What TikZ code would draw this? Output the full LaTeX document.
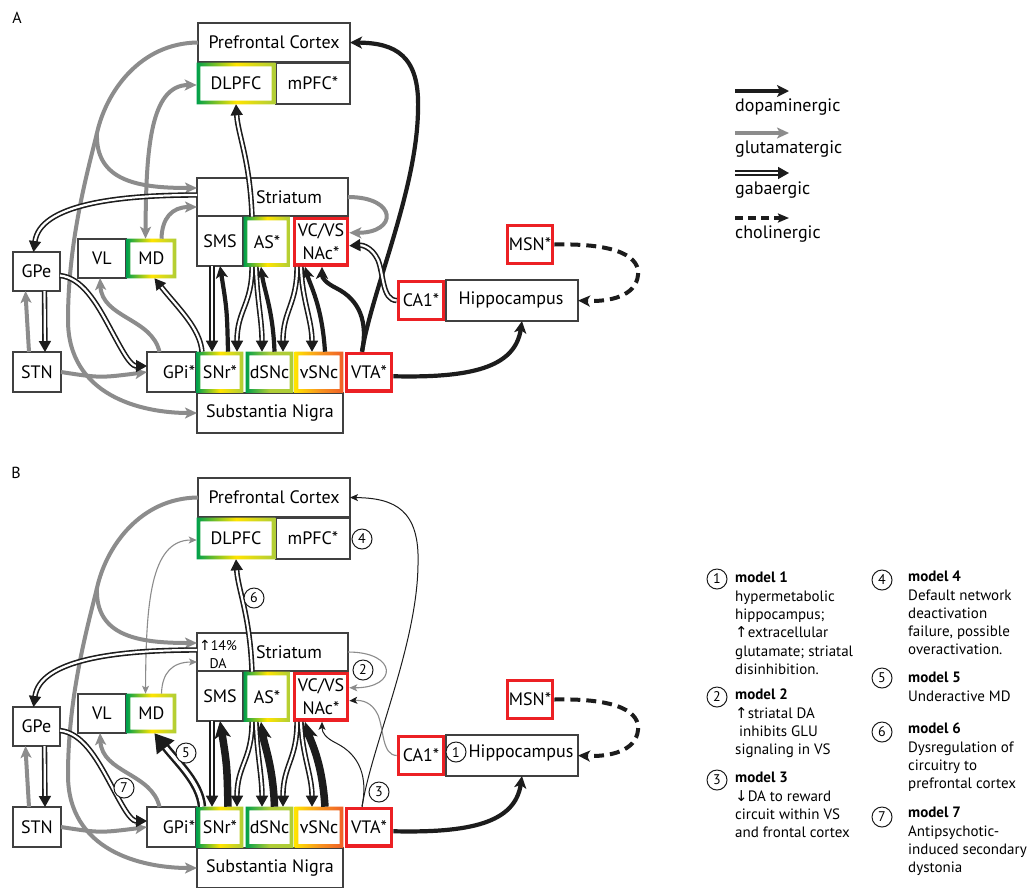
\documentclass[tikz,border=0pt]{standalone}
\usepackage{fontspec}
\setmainfont{PT Sans}
\newfontfamily\symf{DejaVu Sans}
\usetikzlibrary{arrows.meta,calc}
\definecolor{gluc}{RGB}{140,140,140}
\definecolor{dac}{RGB}{28,28,28}
\definecolor{bxc}{RGB}{64,64,64}
\definecolor{grn}{RGB}{0,160,75}
\definecolor{yel}{RGB}{255,228,0}
\definecolor{ygr}{RGB}{175,205,55}
\definecolor{org}{RGB}{248,150,30}
\definecolor{rorg}{RGB}{240,95,40}
\definecolor{redb}{RGB}{236,32,36}

\tikzset{
 x=1pt,y=-1pt,
 box/.style={draw=bxc,line width=1.4pt,fill=white,inner sep=0pt,outer sep=0pt,font=\fontsize{18}{23}\selectfont,align=center},
 lbl/.style={inner sep=0pt,font=\fontsize{18}{23}\selectfont},
 glu/.style={draw=gluc,line width=4pt,-{Stealth[length=12pt,width=11pt,inset=3pt]}},
 gluthin/.style={draw=gluc,line width=1.1pt,-{Stealth[length=8pt,width=7pt,inset=2pt]}},
 da/.style={draw=dac,line width=4.2pt,-{Stealth[length=12pt,width=12pt,inset=3pt]}},
 dathick/.style={draw=dac,line width=7.5pt,-{Stealth[length=17pt,width=16pt,inset=4pt]}},
 dathin/.style={draw=dac,line width=1pt,-{Stealth[length=8pt,width=7pt,inset=2pt]}},
 gaba/.style={draw=dac,line width=1.6pt,double=white,double distance=2.2pt,-{Triangle[length=11pt,width=12pt]}},
 gabathick/.style={draw=dac,line width=2.5pt,double=white,double distance=3.5pt,-{Triangle[length=18pt,width=22pt]}},
 chol/.style={draw=dac,line width=4pt,dash pattern=on 10pt off 6pt,-{Stealth[length=12pt,width=11pt,inset=3pt]}},
 num/.style={circle,draw=dac,line width=1pt,fill=white,inner sep=0pt,minimum size=20pt,font=\fontsize{14}{14}\selectfont},
 mtxt/.style={anchor=north west,inner sep=0pt,align=left,font=\fontsize{15}{18.3}\selectfont},
 legt/.style={anchor=base west,inner sep=0pt,font=\fontsize{18}{20}\selectfont},
}

\newcommand{\mybox}[7][]{\node[box,#1,minimum width={(#5-#3)*1pt},minimum height={(#6-#4)*1pt}] (#2) at ({(#3+#5)/2},{(#4+#6)/2}) {#7};}
\newcommand{\gradframe}[4]{\shade[left color=#2,right color=#4,middle color=#3,even odd rule] ($(#1.south west)+(-1.8,1.8)$) rectangle ($(#1.north east)+(1.8,-1.8)$) ($(#1.south west)+(1.8,-1.8)$) rectangle ($(#1.north east)+(-1.8,1.8)$);}

\newcommand{\panelboxes}[1]{%
\mybox{#1pfc}{198}{23}{350}{62}{Prefrontal Cortex}
\mybox[draw=none]{#1dlpfc}{198.5}{64.5}{273.5}{102.5}{DLPFC}
\mybox{#1mpfc}{276}{63}{350}{104}{mPFC*}
\mybox{#1str}{197}{178}{348}{216}{}
\node[lbl] (#1strl) at (289,197) {Striatum};
\mybox{#1sms}{197}{216}{243}{266}{SMS}
\mybox[draw=none]{#1as}{245.5}{218.5}{288.5}{265}{AS*}
\mybox[draw=redb,line width=3.5pt]{#1vcvs}{294.5}{218.5}{347.5}{265}{VC/VS\\NAc*}
\mybox{#1gpe}{13}{252}{60}{291}{GPe}
\mybox{#1vl}{78}{239}{126}{278}{VL}
\mybox[draw=none]{#1md}{128.5}{240.5}{174.5}{276.5}{MD}
\mybox{#1stn}{13}{352}{61}{392}{STN}
\mybox{#1gpi}{147}{352}{196}{392}{}
\node[lbl] (#1gpil) at (179,372) {GPi*};
\mybox{#1sn}{197}{393}{343}{433}{Substantia Nigra}
\mybox[draw=none]{#1snr}{198.5}{353.5}{241.5}{391}{SNr*}
\mybox[draw=none]{#1dsnc}{247.5}{353.5}{291.5}{391}{dSNc}
\mybox[draw=none]{#1vsnc}{296.5}{353.5}{341.5}{391}{vSNc}
\mybox[draw=redb,line width=3.5pt]{#1vta}{346.5}{353.5}{391.5}{391}{VTA*}
\mybox[draw=redb,line width=3.5pt]{#1ca1}{398.5}{281.5}{443.5}{319.5}{CA1*}
\mybox{#1hip}{446}{280}{578}{321}{}
\mybox[draw=redb,line width=3.5pt]{#1msn}{507.5}{225.5}{552.5}{263.5}{MSN*}
\gradframe{#1dlpfc}{grn}{yel}{ygr}
\gradframe{#1md}{grn}{yel}{ygr}
\gradframe{#1as}{grn}{yel}{ygr}
\gradframe{#1snr}{grn}{yel}{ygr}
\gradframe{#1dsnc}{grn}{ygr}{ygr}
\gradframe{#1vsnc}{yel}{org}{rorg}
\coordinate (#1br) at (97,133);
}

\newcommand{\panelarrows}[1]{%
% glutamatergic
\draw[glu] (#1pfc.west) .. controls (140,43) and (106,92) .. (#1br) .. controls (88,170) and (68,240) .. (68,320) .. controls (68,395) and (140,413) .. (#1sn.west);
\draw[glu] (#1br) .. controls (95,182) and (140,188) .. ($(#1str.west)+(0,-9)$);
\draw[mddl] ($(#1md.north)+(-6,-1.8)$) .. controls (146,150) and (150,85) .. ($(#1dlpfc.west)+(-1.8,1.5)$);
\draw[mdstr] ($(#1md.north)+(10,-1.8)$) .. controls (162,218) and (172,207) .. ($(#1str.west)+(0,10)$);
\draw[glu] ($(#1stn.north)+(-8,0)$) .. controls (27,325) .. ($(#1gpe.south)+(-11,0)$);
\draw[glu] (#1stn.east) .. controls (100,378) .. (#1gpi.west);
\draw[glu] ($(#1gpi.north)+(-12,0)$) .. controls (152,318) and (102,318) .. ($(#1vl.south)+(-2,0)$);
\draw[loopst] (#1str.east) .. controls (398,197) and (398,233) .. ($(#1vcvs.east)+(1.8,-9)$);
% dopaminergic
\draw[vtapf] ($(#1vta.north)+(-7,-1.8)$) .. controls (372,290) and (417,190) .. (418,110) .. controls (420,55) and (395,43) .. (#1pfc.east);
\draw[vtana] ($(#1vta.north)+(-7,-1.8)$) .. controls (368,322) and (360,300) .. (336,288) .. controls (326,283) and (322,278) .. ($(#1vcvs.south)+(1,1.8)$);
\draw[da] ($(#1vta.east)+(1.8,4)$) .. controls (470,378) and (515,368) .. ($(#1hip.south)+(10,0)$);
\draw[snst] ($(#1snr.north)+(8,-1.8)$) .. controls (227,310) .. (#1sms.south);
\draw[snst] ($(#1dsnc.north)+(5,-1.8)$) .. controls (273,310) and (264,290) .. ($(#1as.south)+(-6,1.8)$);
\draw[snst] ($(#1vsnc.north)+(6,-1.8)$) .. controls (322,305) and (310,285) .. ($(#1vcvs.south)+(-16,1.8)$);
% gabaergic
\draw[gaba] ($(#1sms.south)+(-8,0)$) -- ($(#1snr.north)+(-8,-1.8)$);
\draw[gaba] ($(#1as.south)+(-15,1.8)$) .. controls (252,305) and (237,310) .. ($(#1snr.north)+(17,-1.8)$);
\draw[gaba] ($(#1as.south)+(-11,1.8)$) .. controls (257,300) and (262,320) .. ($(#1dsnc.north)+(-7.5,-1.8)$);
\draw[gaba] ($(#1vcvs.south)+(-24,1.8)$) .. controls (297,305) and (283,310) .. ($(#1dsnc.north)+(13.5,-1.8)$);
\draw[gaba] ($(#1vcvs.south)+(-20,1.8)$) .. controls (302,300) and (312,320) .. ($(#1vsnc.north)+(-7,-1.8)$);
\draw[gaba] ($(#1str.west)+(0,-2)$) .. controls (115,195) and (40,205) .. ($(#1gpe.north)+(-3,0)$);
\draw[gaba] ($(#1gpe.east)+(0,4)$) .. controls (82,278) and (96,302) .. (110,328) .. controls (122,350) and (130,366) .. ($(#1gpi.west)+(0,-6)$);
\draw[gaba] ($(#1gpe.south)+(8,0)$) -- ($(#1stn.north)+(8,0)$);
\draw[gpmd] ($(#1snr.north)+(-18,-1.8)$) .. controls (200,328) and (178,308) .. ($(#1md.south)+(3,1.8)$);
\draw[gaba] ($(#1as.north)+(-15,-1.8)$) .. controls (250,160) and (238,135) .. ($(#1dlpfc.south)+(0,1.8)$);
\draw[canac] ($(#1ca1.west)+(-1.8,0)$) .. controls (382,300) and (384,275) .. (378,260) .. controls (372,247) and (362,245) .. ($(#1vcvs.east)+(1.8,4)$);
% cholinergic
\draw[chol] ($(#1msn.east)+(1.8,0)$) .. controls (620,243) and (640,258) .. (638,275) .. controls (636,296) and (610,302) .. (#1hip.east);
}

\begin{document}
\begin{tikzpicture}
\useasboundingbox (0,0) rectangle (1035,887);
\fill[white] (0,0) rectangle (1035,887);

\node[inner sep=0pt,font=\fontsize{16}{16}\selectfont] (labA) at (17,18) {A};
\node[inner sep=0pt,font=\fontsize{16}{16}\selectfont] (labB) at (16,473) {B};

% ---------- panel A ----------
\begin{scope}[
 mddl/.style={glu,{Stealth[length=12pt,width=11pt,inset=3pt]}-{Stealth[length=12pt,width=11pt,inset=3pt]}},
 mdstr/.style={glu}, loopst/.style={glu}, canac/.style={gaba},
 vtapf/.style={da}, vtana/.style={da}, snst/.style={da}, gpmd/.style={gaba}]
\panelboxes{a}
\node[lbl] (ahipl) at (511,300) {Hippocampus};
\panelarrows{a}
\end{scope}

% ---------- panel B ----------
\begin{scope}[shift={(0,455)},
 mddl/.style={gluthin,{Stealth[length=8pt,width=7pt,inset=2pt]}-{Stealth[length=8pt,width=7pt,inset=2pt]}},
 mdstr/.style={gluthin}, loopst/.style={gluthin},
 canac/.style={gluthin,-{Stealth[length=8pt,width=7pt,inset=2pt,color=dac]}},
 vtapf/.style={dathin}, vtana/.style={dathin}, snst/.style={dathick}, gpmd/.style={gabathick}]
\panelboxes{b}
\node[lbl] (bhipl) at (521,298) {Hippocampus};
\node[inner sep=0pt,align=center,font=\fontsize{14}{18}\selectfont] (bdal) at (218,199) {{\symf ↑}14\%\\DA};
\panelarrows{b}
\node[num] (bn1) at (456,297) {1};
\node[num] (bn2) at (363,215) {2};
\node[num] (bn3) at (379,337) {3};
\node[num] (bn4) at (362,84) {4};
\node[num] (bn5) at (186,298) {5};
\node[num] (bn6) at (254,143) {6};
\node[num] (bn7) at (124,333) {7};
\end{scope}

% ---------- legend: transmitters ----------
\coordinate (l1a) at (735,91); \coordinate (l1b) at (789,91);
\coordinate (l2a) at (735,133); \coordinate (l2b) at (789,133);
\coordinate (l3a) at (735,173); \coordinate (l3b) at (789,173);
\coordinate (l4a) at (735,218); \coordinate (l4b) at (789,218);
\draw[da] (l1a) -- (l1b);
\draw[glu] (l2a) -- (l2b);
\draw[gaba] (l3a) -- (l3b);
\draw[draw=dac,line width=3.5pt,dash pattern=on 8pt off 5pt,-{Stealth[length=11pt,width=9pt,inset=2pt]}] (l4a) -- (l4b);
\node[legt] (lt1) at (735,111) {dopaminergic};
\node[legt] (lt2) at (735,153) {glutamatergic};
\node[legt] (lt3) at (735,194) {gabaergic};
\node[legt] (lt4) at (735,238) {cholinergic};

% ---------- legend: models ----------
\node[num] (m1) at (717,579) {1};
\node[mtxt] (t1) at (735,572) {\textbf{model 1}\\hypermetabolic\\hippocampus;\\{\symf ↑}extracellular\\glutamate; striatal\\disinhibition.};
\node[num] (m2) at (717,697) {2};
\node[mtxt] (t2) at (735,689) {\textbf{model 2}\\{\symf ↑}striatal DA\\\hspace*{4pt}inhibits GLU\\signaling in VS};
\node[num] (m3) at (717,780) {3};
\node[mtxt] (t3) at (735,772) {\textbf{model 3}\\{\symf ↓}DA to reward\\circuit within VS\\and frontal cortex};
\node[num] (m4) at (882,580) {4};
\node[mtxt] (t4) at (908,571) {\textbf{model 4}\\Default network\\deactivation\\failure, possible\\overactivation.};
\node[num] (m5) at (882,678) {5};
\node[mtxt] (t5) at (908,672) {\textbf{model 5}\\Underactive MD};
\node[num] (m6) at (882,732) {6};
\node[mtxt] (t6) at (908,723) {\textbf{model 6}\\Dysregulation of\\circuitry to\\prefrontal cortex};
\node[num] (m7) at (882,817) {7};
\node[mtxt] (t7) at (908,807) {\textbf{model 7}\\Antipsychotic-\\induced secondary\\dystonia};
\end{tikzpicture}
\end{document}
